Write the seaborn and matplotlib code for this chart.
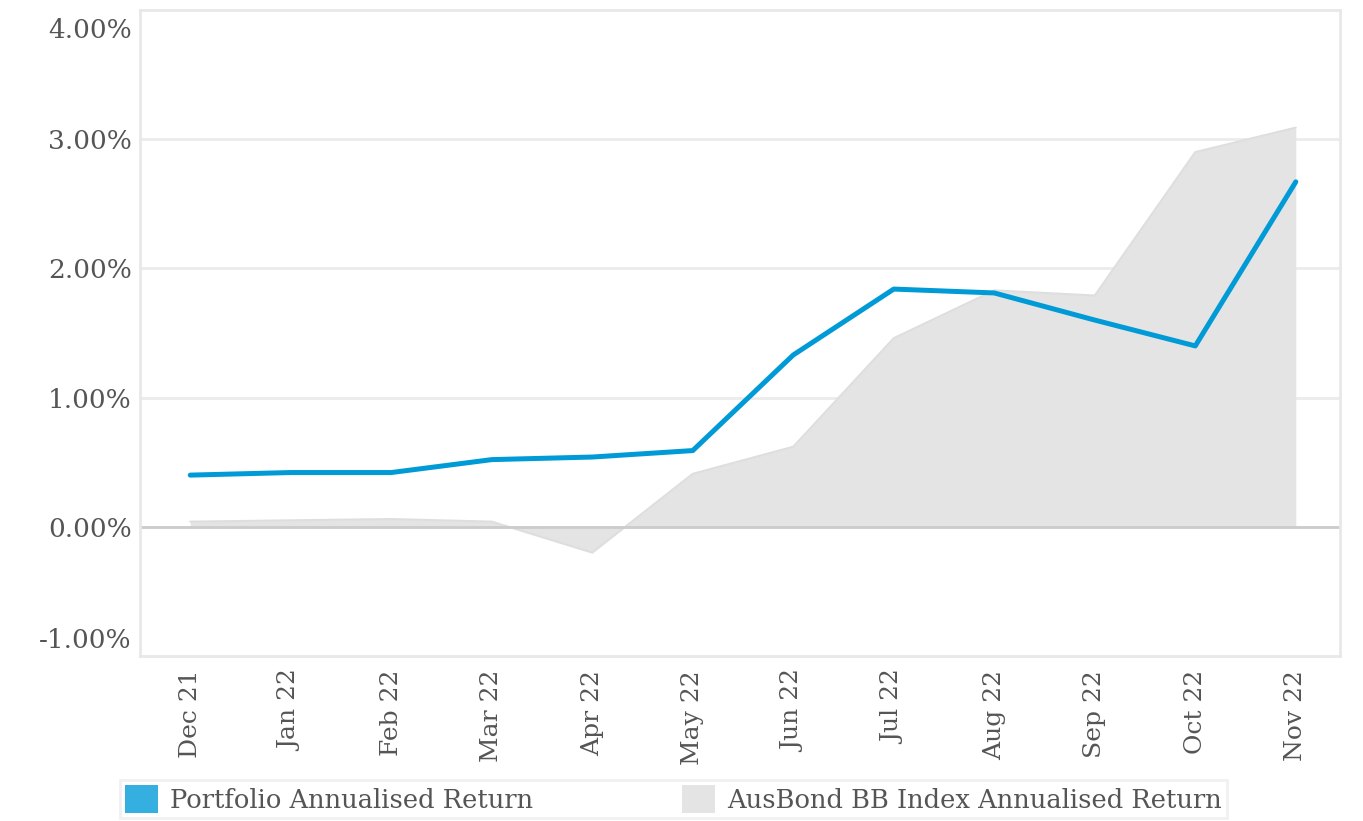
import matplotlib
matplotlib.use("Agg")
import matplotlib.pyplot as plt
import matplotlib.transforms as mtransforms
from matplotlib.patches import Patch
import seaborn as sns
import pandas as pd
import numpy as np

months = ["Dec 21", "Jan 22", "Feb 22", "Mar 22", "Apr 22", "May 22",
          "Jun 22", "Jul 22", "Aug 22", "Sep 22", "Oct 22", "Nov 22"]
portfolio = [0.40, 0.42, 0.42, 0.52, 0.54, 0.59, 1.33, 1.84, 1.81, 1.60, 1.40, 2.67]
ausbond = [0.04, 0.05, 0.06, 0.04, -0.20, 0.41, 0.62, 1.46, 1.83, 1.79, 2.90, 3.09]
yticks = [-1, 0, 1, 2, 3, 4]

df = pd.DataFrame({"month": months, "idx": np.arange(len(months)),
                   "portfolio": portfolio, "ausbond": ausbond})

sns.set_style("white")
plt.rcParams["font.family"] = ["DejaVu Serif"]
tick_font = "DejaVu Serif"

fig = plt.figure(figsize=(13.63, 8.21), dpi=100)
ax = fig.add_axes([140 / 1363, 1 - 656 / 821, 1200 / 1363, 646 / 821])

text_col = "#555555"
grid_col = "#ebebeb"

# benchmark as filled area
ax.fill_between(df["idx"], 0, df["ausbond"], color="#e4e4e4", lw=0, zorder=1)
sns.lineplot(data=df, x="idx", y="ausbond", color="#dedede", lw=1.5, ax=ax, zorder=2)
ax.axhline(0, color="#cccccc", lw=2, zorder=2.5)

# portfolio line
sns.lineplot(data=df, x="idx", y="portfolio", color="#009bd6", lw=3.6,
             ax=ax, zorder=3, solid_capstyle="round")

ax.set_ylim(-1, 4)
ax.set_xlim(-0.5, 11.44)
ax.set_yticks(yticks)
ax.set_yticklabels([f"{v:.2f}%" for v in yticks], fontsize=19,
                   color=text_col, fontfamily=tick_font)
for v in yticks[1:-1]:
    ax.axhline(v, color=grid_col, lw=2, zorder=0)

ax.set_xticks(df["idx"])
ax.set_xticklabels(months, rotation=90, fontsize=18, color=text_col,
                   fontfamily=tick_font)
ax.tick_params(axis="both", length=0)
ax.tick_params(axis="x", pad=10)
ax.tick_params(axis="y", pad=6)
ax.set_xlabel("")
ax.set_ylabel("")

# keep the outer y labels inside the plot height
ytl = ax.get_yticklabels()
ytl[0].set_va("bottom")
ytl[0].set_transform(ytl[0].get_transform() +
                     mtransforms.ScaledTranslation(0, 3 / 100, fig.dpi_scale_trans))
ytl[-1].set_va("top")
ytl[-1].set_transform(ytl[-1].get_transform() +
                      mtransforms.ScaledTranslation(0, -8 / 100, fig.dpi_scale_trans))

for s in ax.spines.values():
    s.set_visible(True)
    s.set_color("#e8e8e8")
    s.set_linewidth(2)

handles = [Patch(facecolor="#35aee0", edgecolor="none"),
           Patch(facecolor="#e4e4e4", edgecolor="none")]
labels = ["Portfolio Annualised Return", "AusBond BB Index Annualised Return"]
leg = fig.legend(handles, labels, loc="upper left",
                 bbox_to_anchor=(120 / 1363, 1 - 780 / 821), ncol=2,
                 prop={"family": tick_font, "size": 18.5},
                 handlelength=1.28, handleheight=1.28, handletextpad=0.47,
                 columnspacing=5.8, borderpad=0.2, frameon=True, fancybox=False,
                 borderaxespad=0)
leg.get_frame().set_edgecolor("#eeeeee")
leg.get_frame().set_linewidth(2)
for t in leg.get_texts():
    t.set_color(text_col)

fig.savefig("out.png", dpi=100)
